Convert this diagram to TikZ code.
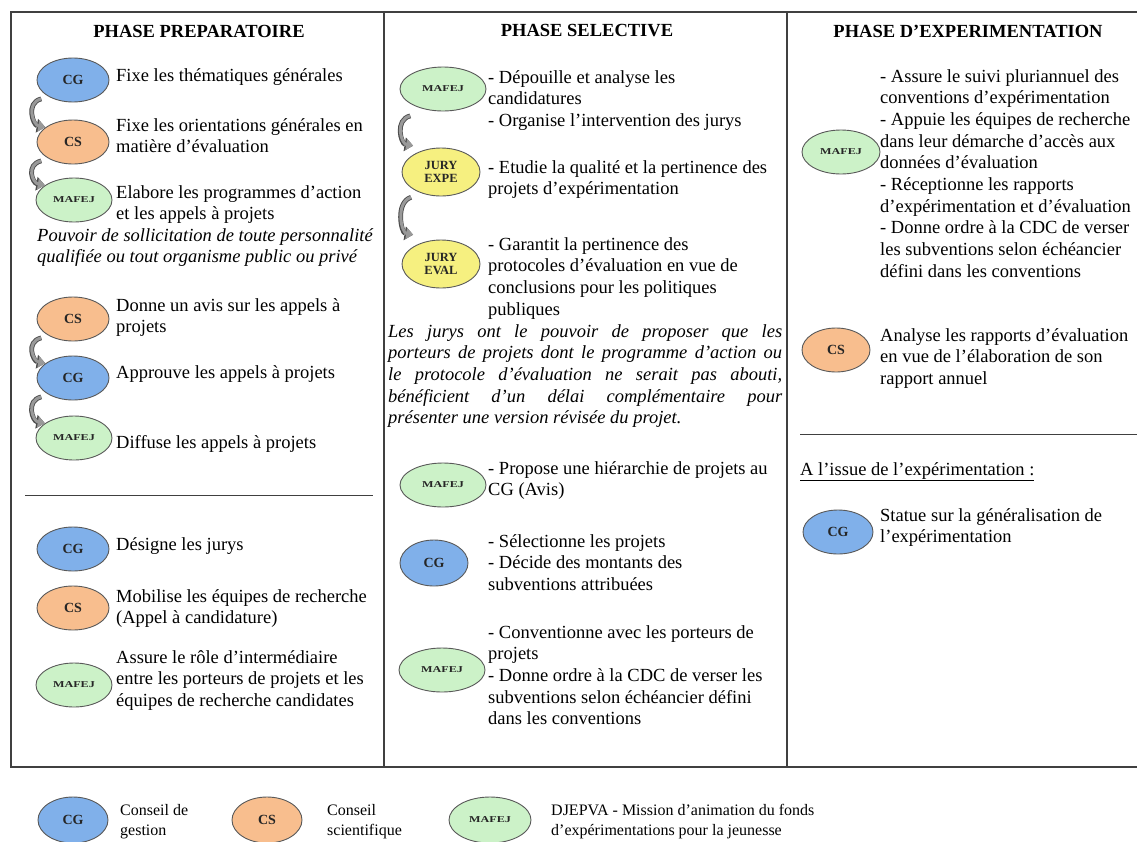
\documentclass[tikz,border=0pt]{standalone}
\usepackage{fontspec}
\setmainfont{Liberation Serif}
\usetikzlibrary{arrows.meta,shapes.geometric}
\definecolor{cgblue}{RGB}{128,176,234}
\definecolor{csorange}{RGB}{248,190,142}
\definecolor{mafgreen}{RGB}{204,242,200}
\definecolor{juryyellow}{RGB}{246,240,128}
\setlength{\parindent}{0pt}

\begin{document}
\begin{tikzpicture}[x=1pt,y=-1pt,
  font=\fontsize{18.5}{21.7}\selectfont,
  org/.style={ellipse,draw=black!65,line width=0.9pt,inner sep=0pt,
    minimum width=72pt,minimum height=44pt,text=black!85,
    font=\fontsize{14}{15}\selectfont\bfseries},
  cg/.style={org,fill=cgblue},
  cs/.style={org,fill=csorange},
  mafej/.style={org,fill=mafgreen,minimum width=76pt,
    font=\fontsize{9}{10}\selectfont\bfseries},
  jury/.style={org,fill=juryyellow,minimum width=78pt,minimum height=48pt,
    align=center,font=\fontsize{12.5}{13.5}\selectfont\bfseries},
  wide/.style={minimum width=86pt},
  txt/.style={anchor=north west,align=left,inner sep=0pt,yshift=9pt},
  title/.style={font=\fontsize{18.5}{21.7}\selectfont\bfseries},
  legtxt/.style={anchor=north west,align=left,inner sep=0pt,yshift=8pt,
    font=\fontsize{16}{20}\selectfont},
  frame/.style={draw=black!75,line width=1.3pt},
  flow/.style={draw=black!40,line width=3pt,-{Triangle[length=7pt,width=11pt]},
    preaction={draw=black!70,line width=4.8pt,-{Triangle[length=8.5pt,width=13.5pt]}}}]
\useasboundingbox (0,0) rectangle (1137,841);
% frame and columns
\draw[frame] (1140,12) -- (11,12) -- (11,767) -- (1140,767);
\draw[frame] (384,12) -- (384,767);
\draw[frame] (787,12) -- (787,767);
\draw[black!75,line width=1pt] (25,495) -- (373,495);
\draw[black!75,line width=1pt] (800,434) -- (1137,434);
% titles
\node[title] (t1) at (199,31) {PHASE PREPARATOIRE};
\node[title] (t2) at (587,31) {PHASE SELECTIVE};
\node[title] (t3) at (968,31) {PHASE D'EXPERIMENTATION};

% phase preparatoire
\node[cg] (cgA) at (73,80) {CG};
\node[cs] (csA) at (73,142) {CS};
\node[mafej] (mafA) at (74,200) {\scalebox{1.35}[1]{MAFEJ}};
\node[txt] (themes) at (116,77) {Fixe les thématiques générales};
\node[txt] (orient) at (116,127) {Fixe les orientations générales en\\matière d'évaluation};
\node[txt] (progs) at (116,194) {Elabore les programmes d'action\\et les appels à projets};
\node[txt,font=\fontsize{18.5}{21.7}\selectfont\itshape] (solicit) at (37,237)
  {Pouvoir de sollicitation de toute personnalité\\qualifiée ou tout organisme public ou privé};
\draw[flow] ([xshift=-6pt,yshift=-3pt]cgA.south west) .. controls +(-16,4) and +(-12,-2) .. ([xshift=-2pt,yshift=-1pt]csA.north west);
\draw[flow] ([xshift=-6pt,yshift=-3pt]csA.south west) .. controls +(-16,4) and +(-12,-2) .. ([xshift=-2pt,yshift=-1pt]mafA.north west);

\node[cs] (csB) at (73,319) {CS};
\node[cg] (cgB) at (73,378) {CG};
\node[mafej] (mafB) at (74,438) {\scalebox{1.35}[1]{MAFEJ}};
\node[txt] (avis) at (116,307) {Donne un avis sur les appels à\\projets};
\node[txt] (approve) at (116,374) {Approuve les appels à projets};
\node[txt] (diffuse) at (116,444) {Diffuse les appels à projets};
\draw[flow] ([xshift=-6pt,yshift=-3pt]csB.south west) .. controls +(-16,4) and +(-12,-2) .. ([xshift=-2pt,yshift=-1pt]cgB.north west);
\draw[flow] ([xshift=-6pt,yshift=-3pt]cgB.south west) .. controls +(-16,4) and +(-12,-2) .. ([xshift=-2pt,yshift=-1pt]mafB.north west);

\node[cg] (cgC) at (73,549) {CG};
\node[cs] (csC) at (73,608) {CS};
\node[mafej] (mafC) at (74,685) {\scalebox{1.35}[1]{MAFEJ}};
\node[txt] (juries) at (116,546) {Désigne les jurys};
\node[txt] (mobilise) at (116,598) {Mobilise les équipes de recherche\\(Appel à candidature)};
\node[txt] (interm) at (116,659) {Assure le rôle d'intermédiaire\\entre les porteurs de projets et les\\équipes de recherche candidates};

% phase selective
\node[mafej,wide] (mafD) at (443,89) {\scalebox{1.35}[1]{MAFEJ}};
\node[jury] (juryExp) at (441,172) {JURY\\EXPE};
\node[jury] (juryEval) at (441,264) {JURY\\EVAL};
\node[txt] (depouille) at (488,79) {- Dépouille et analyse les\\candidatures\\- Organise l'intervention des jurys};
\node[txt] (etudie) at (488,169) {- Etudie la qualité et la pertinence des\\projets d'expérimentation};
\node[txt] (garantit) at (488,246) {- Garantit la pertinence des\\protocoles d'évaluation en vue de\\conclusions pour les politiques\\publiques};
\draw[flow] ([xshift=-2pt,yshift=-11pt]mafD.south west) .. controls +(-16,4) and +(-12,-2) .. ([xshift=0pt,yshift=9pt]juryExp.north west);
\draw[flow] ([xshift=-2pt,yshift=-8pt]juryExp.south west) .. controls +(-16,5) and +(-12,-2) .. ([xshift=0pt,yshift=12pt]juryEval.north west);
\node[anchor=north west,inner sep=0pt,yshift=9pt,text width=394pt,align=justify,
  font=\fontsize{18.5}{21.7}\selectfont\itshape] (power) at (388,333)
  {Les jurys ont le pouvoir de proposer que les\linebreak
   porteurs de projets dont le programme d'action ou\linebreak
   le protocole d'évaluation ne serait pas abouti,\linebreak
   bénéficient d'un délai complémentaire pour\linebreak
   présenter une version révisée du projet.};

\node[mafej,wide] (mafE) at (443,485) {\scalebox{1.35}[1]{MAFEJ}};
\node[cg,minimum width=68pt,minimum height=46pt] (cgD) at (434,563) {CG};
\node[mafej,wide] (mafF) at (442,670) {\scalebox{1.35}[1]{MAFEJ}};
\node[txt] (hierarchy) at (488,470) {- Propose une hiérarchie de projets au\\CG (Avis)};
\node[txt] (select) at (488,543) {- Sélectionne les projets\\- Décide des montants des\\subventions attribuées};
\node[txt] (convent) at (488,634) {- Conventionne avec les porteurs de\\projets\\- Donne ordre à la CDC de verser les\\subventions selon échéancier défini\\dans les conventions};

% phase d'experimentation
\node[mafej,minimum width=78pt] (mafG) at (841,152) {\scalebox{1.35}[1]{MAFEJ}};
\node[txt] (suivi) at (880,78) {- Assure le suivi pluriannuel des\\conventions d'expérimentation\\- Appuie les équipes de recherche\\dans leur démarche d'accès aux\\données d'évaluation\\- Réceptionne les rapports\\d'expérimentation et d'évaluation\\- Donne ordre à la CDC de verser\\les subventions selon échéancier\\défini dans les conventions};
\node[cs,minimum width=68pt] (csD) at (836,350) {CS};
\node[txt] (analyse) at (880,337) {Analyse les rapports d'évaluation\\en vue de l'élaboration de son\\rapport annuel};
\node[txt] (issue) at (800,471) {\underline{A l'issue de l'expérimentation :}};
\node[cg,minimum width=70pt] (cgE) at (838,532) {CG};
\node[txt] (statue) at (880,517) {Statue sur la généralisation de\\l'expérimentation};

% legend
\node[cg,minimum width=70pt,minimum height=46pt] (legCG) at (73,820) {CG};
\node[legtxt] (legCGt) at (120,812) {Conseil de\\gestion};
\node[cs,minimum width=70pt,minimum height=46pt] (legCS) at (267,820) {CS};
\node[legtxt] (legCSt) at (327,812) {Conseil\\scientifique};
\node[mafej,minimum width=82pt,minimum height=46pt] (legMAF) at (490,820) {\scalebox{1.35}[1]{MAFEJ}};
\node[legtxt] (legMAFt) at (551,812) {DJEPVA - Mission d'animation du fonds\\d'expérimentations pour la jeunesse};
\end{tikzpicture}
\end{document}
